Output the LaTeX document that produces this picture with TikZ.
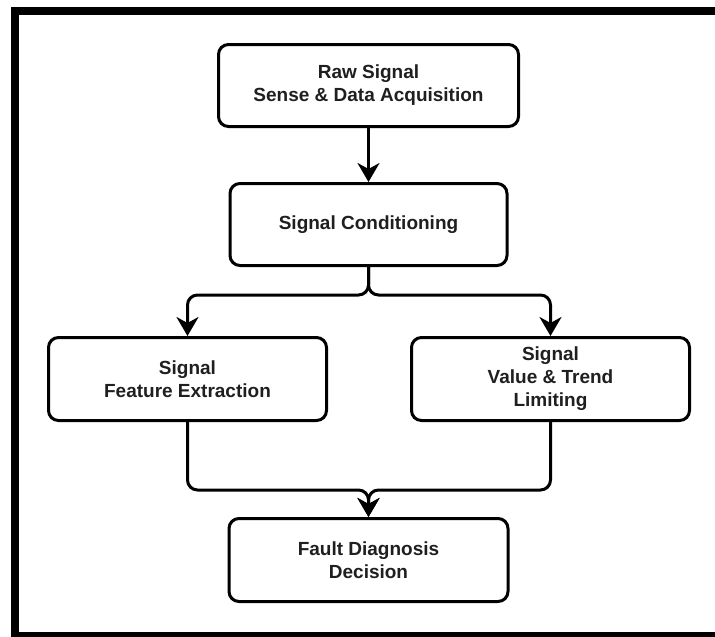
\documentclass[tikz,border=0pt]{standalone}
\usepackage{fontspec}
\setmainfont{Liberation Sans}
\usetikzlibrary{arrows.meta}
\begin{document}
\begin{tikzpicture}[x=1pt,y=-1pt,
  stage/.style={draw=black, line width=3pt, rounded corners=10pt, fill=white,
    align=center, inner sep=0pt, text=black!88,
    font=\bfseries\fontsize{19}{23}\selectfont},
  link/.style={line width=3pt, rounded corners=10pt},
  flow/.style={link, -{Stealth[length=19pt,width=22pt,inset=6pt]}}]
\useasboundingbox (0,0) rectangle (715,637);
\clip (0,0) rectangle (715,637);
% outer frame, its right edge lies off the page
\draw[line width=8pt] (15,11) -- (780,11);
\draw[line width=8pt] (15,635.5) -- (780,635.5);
\draw[line width=8pt] (15,7) -- (15,640);
% processing stages
\node[stage, minimum width=300pt, minimum height=82pt] (raw) at (368.5,85.5)
  {Raw Signal\\Sense \& Data Acquisition};
\node[stage, minimum width=277pt, minimum height=82pt] (cond) at (368.5,224.5)
  {Signal Conditioning};
\node[stage, minimum width=278pt, minimum height=83pt] (feat) at (187.5,379)
  {Signal\\Feature Extraction};
\node[stage, minimum width=278pt, minimum height=83pt] (trend) at (550.5,379)
  {Signal\\Value \& Trend\\Limiting};
\node[stage, minimum width=279pt, minimum height=83pt] (fault) at (368.5,560)
  {Fault Diagnosis\\Decision};
% junction points
\coordinate (split) at (368.5,295);
\coordinate (merge) at (368.5,490);
% connectors
\draw[flow] (raw) -- (cond);
\draw[flow] (cond.south) -- (split) -| (feat.north);
\draw[flow] (cond.south) -- (split) -| (trend.north);
\draw[flow] (feat.south) |- (merge) -- (fault.north);
\draw[flow] (trend.south) |- (merge) -- (fault.north);
\end{tikzpicture}
\end{document}
